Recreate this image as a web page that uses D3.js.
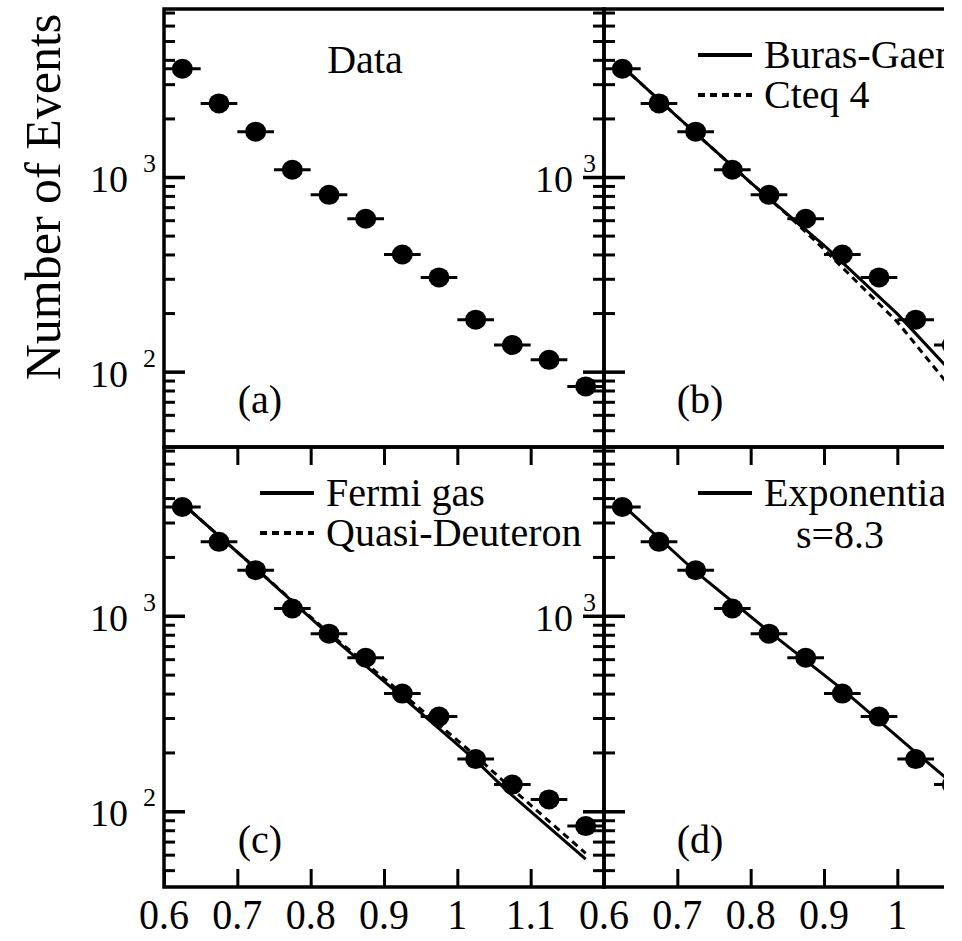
<!DOCTYPE html>
<html>
<head>
<meta charset="utf-8">
<script src="https://cdn.jsdelivr.net/npm/d3@7"></script>
<style>
  body { margin: 0; background: #fff; }
</style>
</head>
<body>
<div id="chart"></div>
<script>
// measured data (same in every panel)
var binCenters = [0.625, 0.675, 0.725, 0.775, 0.825, 0.875, 0.925, 0.975, 1.025, 1.075, 1.125, 1.175];
var counts = [3600, 2390, 1710, 1090, 810, 610, 400, 305, 185, 137, 115, 84];
var binHalfWidth = 0.025;

// (b) models
var burasX = [0.625, 0.7, 0.8, 0.9, 1.0, 1.1];
var burasY = [3700, 2040, 935, 446, 198, 78];
var cteqX = [0.625, 0.7, 0.8, 0.85, 0.9, 1.0, 1.1];
var cteqY = [3700, 2040, 935, 640, 425, 180, 62];

// (c) models
var fermiX = [0.625, 0.725, 0.825, 0.925, 1.025, 1.07, 1.175];
var fermiY = [3750, 1750, 800, 385, 182, 125, 57];
var quasiX = [0.625, 0.725, 0.825, 0.925, 1.025, 1.07, 1.175];
var quasiY = [3750, 1750, 815, 400, 192, 135, 61];

// (d) model
var expoX = [0.625, 0.725, 0.825, 0.925, 1.025, 1.125];
var expoY = [3700, 1680, 830, 420, 200, 97];

var xTicks = [0.6, 0.7, 0.8, 0.9, 1, 1.1];
var xTickLabels = ["0.6", "0.7", "0.8", "0.9", "1", "1.1"];
var yMajor = [100, 1000];
var yDomain = [41, 7300];
var xDomain = [0.6, 1.2];

var serif = "'Liberation Serif', 'Times New Roman', Times, serif";
var width = 962, height = 941;
var visibleW = 944;
var colLeft = [164, 604];
var rowTop = [9, 447];
var panelW = 440;
var panelH = [438, 440];

var svg = d3.select("#chart").append("svg")
  .attr("width", width)
  .attr("height", height);

svg.append("rect").attr("width", width).attr("height", height).attr("fill", "#fff");

svg.append("clipPath").attr("id", "view")
  .append("rect").attr("width", visibleW).attr("height", height);

var root = svg.append("g").attr("clip-path", "url(#view)");

var x = d3.scaleLinear().domain(xDomain).range([0, panelW]);

var panels = [
  { col: 0, row: 0, tag: "(a)", curves: [] },
  { col: 1, row: 0, tag: "(b)", curves: [
      { xs: burasX, ys: burasY, dash: null, name: "Buras-Gaemers" },
      { xs: cteqX, ys: cteqY, dash: "7,5", name: "Cteq 4" } ] },
  { col: 0, row: 1, tag: "(c)", curves: [
      { xs: fermiX, ys: fermiY, dash: null, name: "Fermi gas" },
      { xs: quasiX, ys: quasiY, dash: "7,5", name: "Quasi-Deuteron" } ] },
  { col: 1, row: 1, tag: "(d)", curves: [
      { xs: expoX, ys: expoY, dash: null, name: "Exponential" } ] }
];

function label(sel, x0, y0, size, txt, anchor) {
  return sel.append("text")
    .attr("x", x0).attr("y", y0)
    .attr("font-family", serif)
    .attr("font-size", size)
    .attr("fill", "#000")
    .attr("text-anchor", anchor || "start")
    .text(txt);
}

panels.forEach(function(p) {
  var h = panelH[p.row];
  var y = d3.scaleLog().domain(yDomain).range([h, 0]);
  var minor = y.ticks().filter(function(v) { return yMajor.indexOf(v) < 0; });

  var g = root.append("g")
    .attr("transform", "translate(" + colLeft[p.col] + ", " + rowTop[p.row] + ")");

  // y ticks on both sides, pointing inward
  [[d3.axisRight, 0], [d3.axisLeft, panelW]].forEach(function(a) {
    g.append("g").attr("transform", "translate(" + a[1] + ",0)")
      .call(a[0](y).tickValues(minor).tickSize(11).tickFormat(""))
      .call(function(s) { s.select(".domain").remove(); s.selectAll("line").attr("stroke-width", 3); });
    g.append("g").attr("transform", "translate(" + a[1] + ",0)")
      .call(a[0](y).tickValues(yMajor).tickSize(21).tickFormat(""))
      .call(function(s) { s.select(".domain").remove(); s.selectAll("line").attr("stroke-width", 3.5); });
  });

  // x ticks only for the lower row, on top and bottom edge
  if (p.row === 1) {
    g.append("g").attr("transform", "translate(0," + h + ")")
      .call(d3.axisTop(x).tickValues(xTicks).tickSize(18).tickFormat(""))
      .call(function(s) { s.select(".domain").remove(); s.selectAll("line").attr("stroke-width", 3); });
    g.append("g")
      .call(d3.axisBottom(x).tickValues(xTicks).tickSize(18).tickFormat(""))
      .call(function(s) { s.select(".domain").remove(); s.selectAll("line").attr("stroke-width", 3); });

    xTicks.forEach(function(v, i) {
      if (colLeft[p.col] + x(v) > visibleW - 20) return;
      label(g, 0, 0, 40, xTickLabels[i], "middle")
        .attr("transform", "translate(" + x(v) + "," + (h + 42) + ") scale(1,1.08)");
    });
  }

  // model curves
  p.curves.forEach(function(c) {
    var pts = c.xs.map(function(v, i) { return [v, c.ys[i]]; });
    g.append("path")
      .attr("d", d3.line().x(function(d) { return x(d[0]); }).y(function(d) { return y(d[1]); })(pts))
      .attr("fill", "none")
      .attr("stroke", "#000")
      .attr("stroke-width", 3)
      .attr("stroke-dasharray", c.dash);
  });

  // data points with bin-width bars
  var pts = g.append("g");
  pts.selectAll("line").data(binCenters).enter().append("line")
    .attr("x1", function(d) { return x(d - binHalfWidth); })
    .attr("x2", function(d) { return x(d + binHalfWidth); })
    .attr("y1", function(d, i) { return y(counts[i]); })
    .attr("y2", function(d, i) { return y(counts[i]); })
    .attr("stroke", "#000")
    .attr("stroke-width", 3);
  pts.selectAll("ellipse").data(binCenters).enter().append("ellipse")
    .attr("cx", function(d) { return x(d); })
    .attr("cy", function(d, i) { return y(counts[i]); })
    .attr("rx", 10.5)
    .attr("ry", 10)
    .attr("fill", "#000");

  // panel tag
  label(g, 96, h - 34, 40, p.tag, "middle");

  // y labels: left column gets 10^2 and 10^3, right column only 10^3
  var labVals = p.col === 0 ? yMajor : [1000];
  labVals.forEach(function(v) {
    var off = p.col === 0 ? 36 : 31;
    label(g, -off, y(v) + 15, 38, "10", "end");
    label(g, -21, y(v) - 5, 26, String(Math.round(Math.log10(v))));
  });

  // legend
  p.curves.forEach(function(c, i) {
    var ly = 46 + i * 40;
    var lx0 = p.col === 0 ? 96 : 94;
    g.append("line")
      .attr("x1", lx0).attr("x2", lx0 + 54)
      .attr("y1", ly).attr("y2", ly)
      .attr("stroke", "#000").attr("stroke-width", 4)
      .attr("stroke-dasharray", c.dash);
    label(g, lx0 + 66, ly + 13, 40, c.name);
  });

  // frame
  g.append("rect")
    .attr("width", panelW).attr("height", h)
    .attr("fill", "none").attr("stroke", "#000").attr("stroke-width", 3.5);
});

// extra text
label(root, colLeft[0] + 201, rowTop[0] + 64, 40, "Data", "middle");
label(root, colLeft[1] + 236, rowTop[1] + 101, 40, "s=8.3", "middle");

label(svg, 0, 0, 50, "Number of Events", "middle")
  .attr("transform", "translate(60,197) rotate(-90)");
</script>
</body>
</html>
